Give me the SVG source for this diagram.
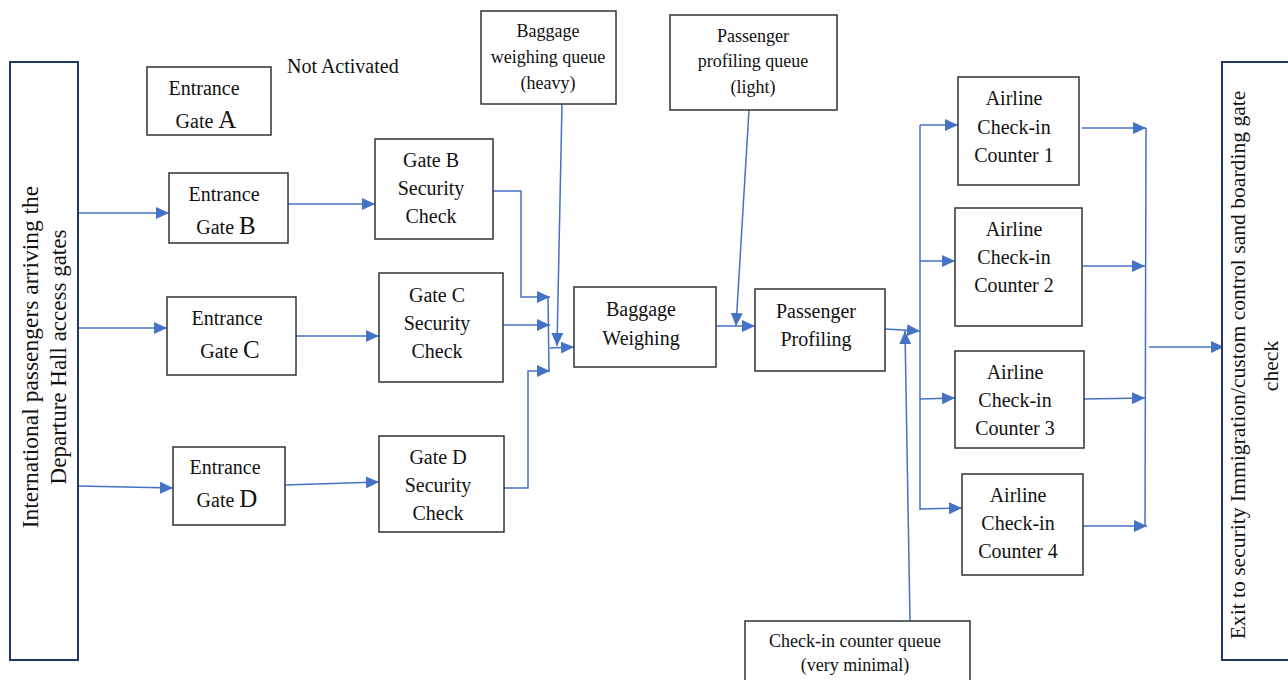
<svg xmlns="http://www.w3.org/2000/svg" width="1288" height="680" viewBox="0 0 1288 680">
<style>
.box{fill:#fff;stroke:#333;stroke-width:1.5}
.big{fill:#fff;stroke:#203864;stroke-width:2}
.t{font-family:"Liberation Serif",serif;font-size:20px;fill:#111;text-anchor:middle}
.s{font-family:"Liberation Serif",serif;font-size:18px;fill:#111;text-anchor:middle}
.L{font-size:25px}
.c{fill:none;stroke:#4472C4;stroke-width:1.5}
.a{marker-end:url(#ah)}
</style>
<defs>
<marker id="ah" markerUnits="userSpaceOnUse" markerWidth="14" markerHeight="12" refX="13" refY="6" orient="auto">
<path d="M0,0 L13,6 L0,12 Z" fill="#4472C4"/>
</marker>
</defs>
<rect width="1288" height="680" fill="#fff"/>

<g id="connectors">
<path class="c a" d="M78,213 L169,213"/>
<path class="c a" d="M78,328 L167,328"/>
<path class="c a" d="M78,486 L173,488"/>
<path class="c a" d="M288,204 L375,204"/>
<path class="c a" d="M296,336 L379,336"/>
<path class="c a" d="M285,485 L379,482"/>
<path class="c a" d="M493,191 L521,191 L521,297 L550,297"/>
<path class="c a" d="M503,325 L550,325"/>
<path class="c a" d="M504,488 L528,488 L528,371 L550,371"/>
<path class="c" d="M548,297 L549,372"/>
<path class="c a" d="M550,348 L574,347"/>
<path class="c a" d="M562,104 L557,346"/>
<path class="c a" d="M716,326 L755,326"/>
<path class="c a" d="M749,110 L736,326"/>
<path class="c a" d="M885,329 L920,331"/>
<path class="c a" d="M910,621 L905,331"/>
<path class="c" d="M920,125 L920,510"/>
<path class="c a" d="M920,125 L958,125"/>
<path class="c a" d="M920,261 L955,261"/>
<path class="c a" d="M920,399 L955,398"/>
<path class="c a" d="M920,509 L962,508"/>
<path class="c a" d="M1082,128 L1146,128"/>
<path class="c a" d="M1083,266 L1145,266"/>
<path class="c a" d="M1084,399 L1145,398"/>
<path class="c a" d="M1083,526 L1147,526"/>
<path class="c" d="M1146,128 L1145,526"/>
<path class="c a" d="M1149,347 L1224,347"/>
</g>

<g id="arrivals">
<rect class="big" x="10" y="62" width="68" height="598"/>
<text class="t" style="font-size:23.5px" transform="translate(38,357) rotate(-90)">International passengers arriving the</text>
<text class="t" style="font-size:23px" transform="translate(66,357) rotate(-90)">Departure Hall access gates</text>
</g>

<g id="exit">
<rect class="big" x="1222" y="62" width="80" height="598"/>
<text class="t" style="font-size:21.6px" transform="translate(1245,365) rotate(-90)">Exit to security Immigration/custom control sand boarding gate</text>
<text class="t" style="font-size:21.6px" transform="translate(1278,366) rotate(-90)">check</text>
</g>

<g id="gateA">
<rect class="box" x="147" y="67" width="124" height="68"/>
<text class="t" x="204" y="95">Entrance</text>
<text class="t" x="206" y="128">Gate <tspan class="L">A</tspan></text>
</g>
<text id="not-activated" x="287" y="73" style="font-family:'Liberation Serif',serif;font-size:20px;fill:#111">Not Activated</text>

<g id="gateB">
<rect class="box" x="169" y="173" width="119" height="70"/>
<text class="t" x="224" y="201">Entrance</text>
<text class="t" x="226" y="234">Gate <tspan class="L">B</tspan></text>
</g>
<g id="gateC">
<rect class="box" x="167" y="297" width="129" height="78"/>
<text class="t" x="227" y="325">Entrance</text>
<text class="t" x="230" y="358">Gate <tspan class="L">C</tspan></text>
</g>
<g id="gateD">
<rect class="box" x="173" y="447" width="112" height="78"/>
<text class="t" x="225" y="474">Entrance</text>
<text class="t" x="227" y="507">Gate <tspan class="L">D</tspan></text>
</g>

<g id="secB">
<rect class="box" x="375" y="139" width="118" height="100"/>
<text class="t" x="431" y="167">Gate B</text>
<text class="t" x="431" y="195">Security</text>
<text class="t" x="431" y="223">Check</text>
</g>
<g id="secC">
<rect class="box" x="379" y="273" width="124" height="109"/>
<text class="t" x="437" y="302">Gate C</text>
<text class="t" x="437" y="330">Security</text>
<text class="t" x="437" y="358">Check</text>
</g>
<g id="secD">
<rect class="box" x="379" y="436" width="125" height="96"/>
<text class="t" x="438" y="464">Gate D</text>
<text class="t" x="438" y="492">Security</text>
<text class="t" x="438" y="520">Check</text>
</g>

<g id="bagQueue">
<rect class="box" x="481" y="11" width="135" height="93"/>
<text class="s" x="548" y="37">Baggage</text>
<text class="s" x="548" y="63">weighing queue</text>
<text class="s" x="548" y="89">(heavy)</text>
</g>
<g id="profQueue">
<rect class="box" x="670" y="15" width="167" height="95"/>
<text class="s" x="753" y="42">Passenger</text>
<text class="s" x="753" y="67">profiling queue</text>
<text class="s" x="753" y="93">(light)</text>
</g>

<g id="bagWeigh">
<rect class="box" x="574" y="287" width="142" height="80"/>
<text class="t" x="641" y="316">Baggage</text>
<text class="t" x="641" y="345">Weighing</text>
</g>
<g id="profiling">
<rect class="box" x="755" y="289" width="130" height="82"/>
<text class="t" x="816" y="318">Passenger</text>
<text class="t" x="816" y="346">Profiling</text>
</g>

<g id="counter1">
<rect class="box" x="958" y="77" width="121" height="108"/>
<text class="t" x="1014" y="105">Airline</text>
<text class="t" x="1014" y="134">Check-in</text>
<text class="t" x="1014" y="162">Counter 1</text>
</g>
<g id="counter2">
<rect class="box" x="955" y="208" width="127" height="118"/>
<text class="t" x="1014" y="236">Airline</text>
<text class="t" x="1014" y="264">Check-in</text>
<text class="t" x="1014" y="292">Counter 2</text>
</g>
<g id="counter3">
<rect class="box" x="955" y="351" width="129" height="97"/>
<text class="t" x="1015" y="379">Airline</text>
<text class="t" x="1015" y="407">Check-in</text>
<text class="t" x="1015" y="435">Counter 3</text>
</g>
<g id="counter4">
<rect class="box" x="962" y="474" width="121" height="101"/>
<text class="t" x="1018" y="502">Airline</text>
<text class="t" x="1018" y="530">Check-in</text>
<text class="t" x="1018" y="558">Counter 4</text>
</g>

<g id="checkinQueue">
<rect class="box" x="745" y="621" width="225" height="70"/>
<text class="s" x="855" y="647">Check-in counter queue</text>
<text class="s" x="855" y="671">(very minimal)</text>
</g>
</svg>
